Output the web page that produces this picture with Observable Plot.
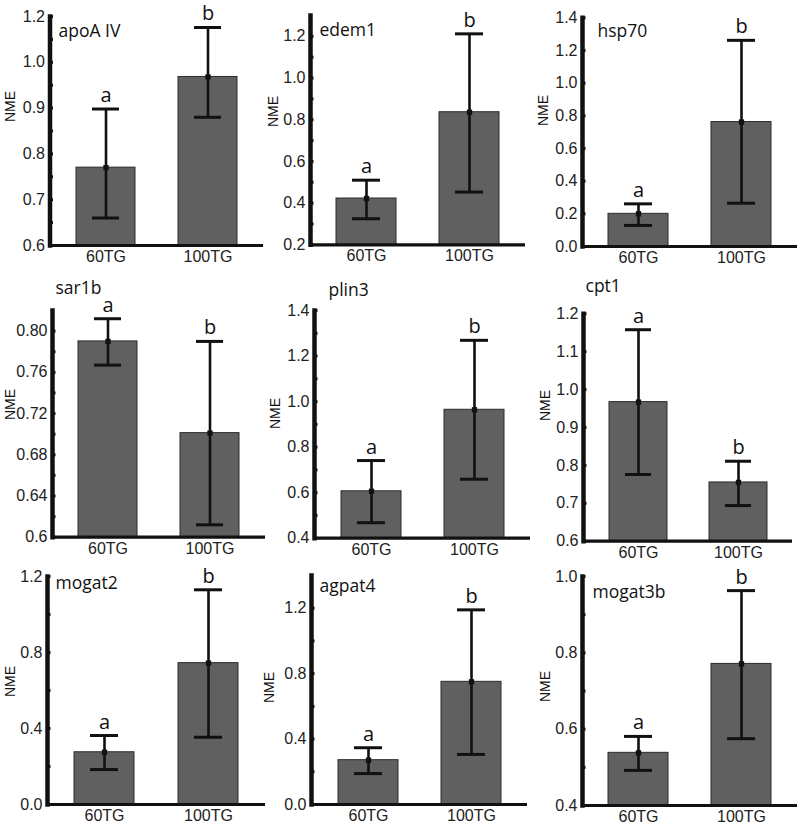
<!DOCTYPE html>
<html><head><meta charset="utf-8">
<script src="https://cdn.jsdelivr.net/npm/d3@7"></script>
<script src="https://cdn.jsdelivr.net/npm/@observablehq/plot@0.6"></script>
<style>
body{margin:0;background:#fff;}
#fig{position:relative;width:800px;height:825px;overflow:hidden;background:#fff;}
#fig svg{position:absolute;}
</style></head><body><div id="fig"></div>
<script>
// ---- data ----
const groups = ["60TG", "100TG"];
const genes = ["apoA IV", "edem1", "hsp70", "sar1b", "plin3", "cpt1", "mogat2", "agpat4", "mogat3b"];
const mean60  = [0.770, 0.422, 0.200, 0.790, 0.606, 0.967, 0.275, 0.271, 0.538];
const lo60    = [0.660, 0.325, 0.129, 0.767, 0.468, 0.776, 0.184, 0.189, 0.492];
const hi60    = [0.898, 0.510, 0.261, 0.812, 0.741, 1.158, 0.363, 0.347, 0.581];
const mean100 = [0.968, 0.836, 0.762, 0.701, 0.964, 0.755, 0.744, 0.750, 0.771];
const lo100   = [0.880, 0.453, 0.265, 0.612, 0.659, 0.694, 0.354, 0.306, 0.575];
const hi100   = [1.076, 1.212, 1.262, 0.790, 1.269, 0.811, 1.130, 1.190, 0.963];
const letters60  = ["a", "a", "a", "a", "a", "a", "a", "a", "a"];
const letters100 = ["b", "b", "b", "b", "b", "b", "b", "b", "b"];
const yDomains = [[0.6, 1.1], [0.2, 1.3], [0, 1.4], [0.6, 0.82], [0.4, 1.4], [0.6, 1.2], [0, 1.2], [0, 1.4], [0.4, 1.0]];
const yTickValues = [
  [0.6, 0.7, 0.8, 0.9, 1.0, 1.1],
  [0.2, 0.4, 0.6, 0.8, 1.0, 1.2],
  [0, 0.2, 0.4, 0.6, 0.8, 1.0, 1.2, 1.4],
  [0.6, 0.64, 0.68, 0.72, 0.76, 0.80],
  [0.4, 0.6, 0.8, 1.0, 1.2, 1.4],
  [0.6, 0.7, 0.8, 0.9, 1.0, 1.1, 1.2],
  [0, 0.4, 0.8, 1.2],
  [0, 0.4, 0.8, 1.2],
  [0.4, 0.6, 0.8, 1.0]
];
const yTickLabels = [
  ["0.6", "0.7", "0.8", "0.9", "1.0", "1.2"],
  ["0.2", "0.4", "0.6", "0.8", "1.0", "1.2"],
  ["0.0", "0.2", "0.4", "0.6", "0.8", "1.0", "1.2", "1.4"],
  ["0.6", "0.64", "0.68", "0.72", "0.76", "0.80"],
  ["0.4", "0.6", "0.8", "1.0", "1.2", "1.4"],
  ["0.6", "0.7", "0.8", "0.9", "1.0", "1.1", "1.2"],
  ["0.0", "0.4", "0.8", "1.2"],
  ["0.0", "0.4", "0.8", "1.2"],
  ["0.4", "0.6", "0.8", "1.0"]
];
const yMinorTicks = [
  [0.65, 0.75, 0.85, 0.95, 1.05],
  [0.3, 0.5, 0.7, 0.9, 1.1],
  [],
  [0.62, 0.66, 0.70, 0.74, 0.78],
  [0.5, 0.7, 0.9, 1.1, 1.3],
  [],
  [0.2, 0.6, 1.0],
  [0.2, 0.6, 1.0],
  [0.5, 0.7, 0.9]
];
const yAxisTitle = "NME";

// ---- layout (absolute page pixels) ----
const layout = [
  {left: 0,   top: 0,   w: 265, h: 275, axisX: 49.5, xEnd: 263, yTop: 16,    yBase: 245,   title: [58, 36.7],   nme: [10, 106]},
  {left: 265, top: 0,   w: 265, h: 275, axisX: 310,  xEnd: 525, yTop: 15,    yBase: 244.3, title: [319, 35],    nme: [273, 111]},
  {left: 530, top: 0,   w: 270, h: 275, axisX: 582,  xEnd: 797, yTop: 17.3,  yBase: 246,   title: [597, 36.7],  nme: [543, 110]},
  {left: 0,   top: 275, w: 265, h: 290, axisX: 52,   xEnd: 265, yTop: 310,   yBase: 536.7, title: [55, 293.3],  nme: [10, 404]},
  {left: 265, top: 275, w: 265, h: 290, axisX: 314,  xEnd: 530, yTop: 310,   yBase: 537.7, title: [328, 295],   nme: [275, 413]},
  {left: 530, top: 275, w: 270, h: 290, axisX: 583,  xEnd: 792, yTop: 313.3, yBase: 540.7, title: [585, 291.7], nme: [545, 405]},
  {left: 0,   top: 550, w: 265, h: 275, axisX: 47,   xEnd: 265, yTop: 576,   yBase: 804,   title: [55, 588.3],  nme: [10, 681]},
  {left: 265, top: 550, w: 265, h: 275, axisX: 311,  xEnd: 527, yTop: 575,   yBase: 804,   title: [319, 591.7], nme: [269, 687]},
  {left: 530, top: 550, w: 270, h: 275, axisX: 582,  xEnd: 797, yTop: 576,   yBase: 805,   title: [592, 597.3], nme: [545, 686]}
];

const fig = document.getElementById("fig");
const ink = "#111";
const sans = "'Liberation Sans', Arial, sans-serif";
const titleFont = "'Open Sans', 'Noto Sans', sans-serif";

genes.forEach((gene, i) => {
  const L = layout[i];
  const rows = groups.map((g, j) => ({
    group: g,
    mean: j ? mean100[i] : mean60[i],
    lo: j ? lo100[i] : lo60[i],
    hi: j ? hi100[i] : hi60[i],
    letter: j ? letters100[i] : letters60[i]
  }));
  const y0 = yDomains[i][0];
  const labelMap = new Map(yTickValues[i].map((v, k) => [v, yTickLabels[i][k]]));
  const plot = Plot.plot({
    width: L.w,
    height: L.h,
    marginLeft: L.axisX - L.left,
    marginRight: L.left + L.w - L.xEnd,
    marginTop: L.yTop - L.top,
    marginBottom: L.top + L.h - L.yBase,
    style: {background: "transparent", fontFamily: sans, fontSize: "16px", color: ink, overflow: "visible"},
    x: {domain: groups, paddingInner: 0.42, paddingOuter: 0.25, label: null},
    y: {domain: yDomains[i], label: null},
    marks: [
      Plot.barY(rows, {x: "group", y1: () => y0, y2: "mean", fill: "#606060", stroke: "#2b2b2b", strokeWidth: 1}),
      Plot.ruleX(rows, {x: "group", y1: "lo", y2: "hi", stroke: ink, strokeWidth: 2.6}),
      Plot.tickY(rows, {x: "group", y: "hi", insetLeft: 16, insetRight: 16, stroke: ink, strokeWidth: 3}),
      Plot.tickY(rows, {x: "group", y: "lo", insetLeft: 16, insetRight: 16, stroke: ink, strokeWidth: 3}),
      Plot.dot(rows, {x: "group", y: "mean", symbol: "square", r: 3, fill: ink}),
      Plot.text(rows, {x: "group", y: "hi", text: "letter", dy: -7, lineAnchor: "bottom", fontSize: 20, fontFamily: titleFont, fill: ink}),
      Plot.axisY({ticks: yTickValues[i], tickSize: 0, tickPadding: 5, tickFormat: v => labelMap.get(v), fontSize: 16, fill: "#222"}),
      Plot.axisY({ticks: [...yTickValues[i], ...yMinorTicks[i]], tickSize: -3.5, tickFormat: () => "", stroke: ink, strokeWidth: 3}),
      Plot.axisX({tickSize: 0, tickPadding: 5, fontSize: 16, fill: "#222"}),
      Plot.ruleY([y0], {stroke: ink, strokeWidth: 3.2}),
      Plot.frame({anchor: "left", stroke: ink, strokeWidth: 4.5}),
      Plot.text([gene], {text: d => d, frameAnchor: "top-left", dx: L.title[0] - L.axisX, dy: L.title[1] - L.yTop, textAnchor: "start", lineAnchor: "bottom", fontSize: 17.5, fontFamily: titleFont, fill: ink}),
      Plot.text([yAxisTitle], {text: d => d, frameAnchor: "top-left", dx: L.nme[0] - L.axisX, dy: L.nme[1] - L.yTop, rotate: -90, lineAnchor: "middle", textAnchor: "middle", fontSize: 14, fontFamily: sans, fill: ink})
    ]
  });
  plot.style.left = L.left + "px";
  plot.style.top = L.top + "px";
  fig.appendChild(plot);
});
</script>
</body></html>
